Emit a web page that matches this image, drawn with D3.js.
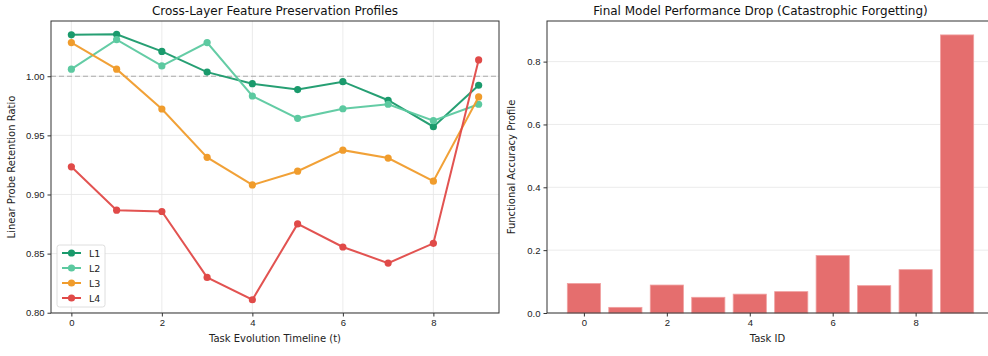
<!DOCTYPE html>
<html>
<head>
<meta charset="utf-8">
<script src="https://cdn.jsdelivr.net/npm/d3@7"></script>
<style>
  body { margin: 0; background: #fff; }
  svg { display: block; font-family: "DejaVu Sans", sans-serif; }
  .tick text { fill: #222; font-size: 9.5px; }
  .tick line { stroke: #333; }
</style>
</head>
<body>
<svg id="chart" width="988" height="356"></svg>
<script>
// task timeline
var tasks = [0, 1, 2, 3, 4, 5, 6, 7, 8, 9];
var layerNames = ["L1", "L2", "L3", "L4"];
var layerColors = ["#1a9a6c", "#5cc9a0", "#f09c2c", "#e04a48"];

// linear probe retention per layer
var l1 = [1.035, 1.0355, 1.021, 1.0035, 0.9937, 0.9887, 0.9954, 0.9797, 0.9573, 0.9924];
var l2 = [1.006, 1.031, 1.0087, 1.0285, 0.9833, 0.9644, 0.9725, 0.9763, 0.9624, 0.9763];
var l3 = [1.0285, 1.006, 0.9723, 0.9314, 0.9081, 0.9197, 0.9375, 0.9308, 0.9113, 0.9825];
var l4 = [0.9234, 0.8867, 0.8856, 0.8299, 0.811, 0.8751, 0.8556, 0.842, 0.8587, 1.0138];

// final accuracy per task
var finalAcc = [0.094, 0.018, 0.089, 0.050, 0.060, 0.068, 0.183, 0.087, 0.138, 0.885];

var leftTicksY = [0.80, 0.85, 0.90, 0.95, 1.00];
var rightTicksY = [0.0, 0.2, 0.4, 0.6, 0.8];
var ticksX = [0, 2, 4, 6, 8];

var svg = d3.select("#chart");
var layers = [l1, l2, l3, l4];

// ---------- left panel ----------
var L = { left: 51, right: 499, top: 21, bottom: 313 };
var x1 = d3.scaleLinear().domain([-0.45, 9.45]).range([L.left, L.right]);
var allVals = [].concat(l1, l2, l3, l4);
var lo = d3.min(allVals), hi = d3.max(allVals), pad = (hi - lo) * 0.05;
var y1 = d3.scaleLinear().domain([lo - pad, hi + pad]).range([L.bottom, L.top]);

var gl = svg.append("g");

// grid
gl.selectAll(".gy").data(leftTicksY).enter().append("line")
  .attr("x1", L.left).attr("x2", L.right)
  .attr("y1", function(d) { return y1(d); }).attr("y2", function(d) { return y1(d); })
  .attr("stroke", "#e6e6e6").attr("stroke-width", 0.8);
gl.selectAll(".gx").data(ticksX).enter().append("line")
  .attr("y1", L.top).attr("y2", L.bottom)
  .attr("x1", function(d) { return x1(d); }).attr("x2", function(d) { return x1(d); })
  .attr("stroke", "#e6e6e6").attr("stroke-width", 0.8);

// reference line at 1.0
gl.append("line")
  .attr("x1", L.left).attr("x2", L.right)
  .attr("y1", y1(1)).attr("y2", y1(1))
  .attr("stroke", "#aaaaaa").attr("stroke-width", 1.2)
  .attr("stroke-dasharray", "5,3");

var line = d3.line()
  .x(function(d, i) { return x1(tasks[i]); })
  .y(function(d) { return y1(d); });

layers.forEach(function(vals, k) {
  var g = gl.append("g");
  g.append("path")
    .attr("d", line(vals))
    .attr("fill", "none")
    .attr("stroke", layerColors[k])
    .attr("stroke-width", 2)
    .attr("stroke-opacity", 0.95);
  g.selectAll("circle").data(vals).enter().append("circle")
    .attr("cx", function(d, i) { return x1(tasks[i]); })
    .attr("cy", function(d) { return y1(d); })
    .attr("r", 3.6)
    .attr("fill", layerColors[k]);
});

// axes
gl.append("g").attr("transform", "translate(0," + L.bottom + ")")
  .call(d3.axisBottom(x1).tickValues(ticksX).tickSize(3.5).tickPadding(3).tickFormat(d3.format("d")))
  .call(function(g) { g.select(".domain").remove(); });
gl.append("g").attr("transform", "translate(" + L.left + ",0)")
  .call(d3.axisLeft(y1).tickValues(leftTicksY).tickSize(3.5).tickPadding(3).tickFormat(d3.format(".2f")))
  .call(function(g) { g.select(".domain").remove(); });

gl.append("rect")
  .attr("x", L.left).attr("y", L.top)
  .attr("width", L.right - L.left).attr("height", L.bottom - L.top)
  .attr("fill", "none").attr("stroke", "#333").attr("stroke-width", 1);

gl.append("text")
  .attr("x", (L.left + L.right) / 2).attr("y", 15)
  .attr("text-anchor", "middle").attr("font-size", "12px").attr("fill", "#111")
  .text("Cross-Layer Feature Preservation Profiles");
gl.append("text")
  .attr("x", (L.left + L.right) / 2).attr("y", 342)
  .attr("text-anchor", "middle").attr("font-size", "10px").attr("fill", "#222")
  .text("Task Evolution Timeline (t)");
gl.append("text")
  .attr("transform", "translate(15," + ((L.top + L.bottom) / 2) + ") rotate(-90)")
  .attr("text-anchor", "middle").attr("font-size", "10px").attr("fill", "#222")
  .text("Linear Probe Retention Ratio");

// legend
var lg = gl.append("g").attr("transform", "translate(57,245)");
lg.append("rect").attr("width", 48).attr("height", 62).attr("rx", 2.5)
  .attr("fill", "#fff").attr("fill-opacity", 0.85)
  .attr("stroke", "#d6d6d6").attr("stroke-width", 0.8);
layerNames.forEach(function(name, k) {
  var yy = 8 + k * 15;
  lg.append("line").attr("x1", 5).attr("x2", 24).attr("y1", yy).attr("y2", yy)
    .attr("stroke", layerColors[k]).attr("stroke-width", 2);
  lg.append("circle").attr("cx", 14.5).attr("cy", yy).attr("r", 3.6).attr("fill", layerColors[k]);
  lg.append("text").attr("x", 32).attr("y", yy + 3.5)
    .attr("font-size", "9.5px").attr("fill", "#222").text(name);
});

// ---------- right panel ----------
var R = { left: 547, right: 994, top: 21, bottom: 313 };
var x2 = d3.scaleLinear().domain([-0.89, 9.89]).range([R.left, R.right]);
var y2 = d3.scaleLinear().domain([0, d3.max(finalAcc) * 1.05]).range([R.bottom, R.top]);

var gr = svg.append("g");
gr.selectAll(".gy").data(rightTicksY).enter().append("line")
  .attr("x1", R.left).attr("x2", R.right)
  .attr("y1", function(d) { return y2(d); }).attr("y2", function(d) { return y2(d); })
  .attr("stroke", "#e6e6e6").attr("stroke-width", 0.8);

gr.selectAll("rect.bar").data(finalAcc).enter().append("rect")
  .attr("class", "bar")
  .attr("x", function(d, i) { return x2(tasks[i] - 0.4); })
  .attr("width", x2(0.8) - x2(0))
  .attr("y", function(d) { return y2(d); })
  .attr("height", function(d) { return y2(0) - y2(d); })
  .attr("fill", "#e56e6e")
  .attr("stroke", "#f0a0a0").attr("stroke-width", 0.8);

gr.append("g").attr("transform", "translate(0," + R.bottom + ")")
  .call(d3.axisBottom(x2).tickValues(ticksX).tickSize(3.5).tickPadding(3).tickFormat(d3.format("d")))
  .call(function(g) { g.select(".domain").remove(); });
gr.append("g").attr("transform", "translate(" + R.left + ",0)")
  .call(d3.axisLeft(y2).tickValues(rightTicksY).tickSize(3.5).tickPadding(3).tickFormat(d3.format(".1f")))
  .call(function(g) { g.select(".domain").remove(); });

gr.append("rect")
  .attr("x", R.left).attr("y", R.top)
  .attr("width", R.right - R.left).attr("height", R.bottom - R.top)
  .attr("fill", "none").attr("stroke", "#333").attr("stroke-width", 1);

gr.append("text")
  .attr("x", (R.left + R.right) / 2 - 10).attr("y", 15)
  .attr("text-anchor", "middle").attr("font-size", "12px").attr("fill", "#111")
  .text("Final Model Performance Drop (Catastrophic Forgetting)");
gr.append("text")
  .attr("x", x2(4.5) - 3).attr("y", 342)
  .attr("text-anchor", "middle").attr("font-size", "10px").attr("fill", "#222")
  .text("Task ID");
gr.append("text")
  .attr("transform", "translate(515," + ((R.top + R.bottom) / 2) + ") rotate(-90)")
  .attr("text-anchor", "middle").attr("font-size", "10px").attr("fill", "#222")
  .text("Functional Accuracy Profile");
</script>
</body>
</html>
